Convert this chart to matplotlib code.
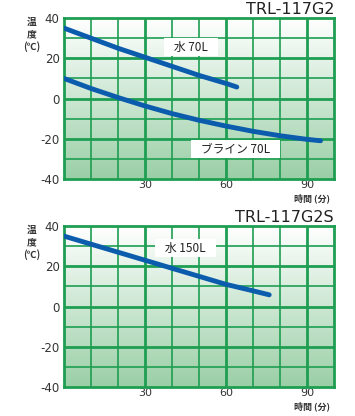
import numpy as np
import matplotlib
matplotlib.use("Agg")
import matplotlib.pyplot as plt
from matplotlib.colors import LinearSegmentedColormap

plt.rcParams['font.family'] = ['Noto Sans CJK JP', 'DejaVu Sans']

# Data
titles = ["TRL-117G2", "TRL-117G2S"]
x_ticks = [30, 60, 90]
y_ticks = [-40, -20, 0, 20, 40]

water70_t = [0, 10, 20, 30, 40, 50, 60, 64]
water70_v = [35, 30, 25, 20.5, 16, 11.5, 7.5, 5.7]

brine70_t = [0, 10, 20, 30, 40, 50, 60, 70, 80, 90, 95]
brine70_v = [10, 5, 0.5, -3.7, -7.5, -10.8, -13.7, -16.3, -18.5, -20.3, -21]

water150_t = [0, 10, 20, 30, 40, 50, 60, 70, 76]
water150_v = [35, 31, 27, 23, 19, 15, 11, 7.8, 5.8]

labels_top = [("水 70L", 47, 25.5), ("ブライン 70L", 63.5, -25)]
labels_bot = [("水 150L", 45, 29)]

line_color = "#0b5cad"
grid_color = "#1e9e52"
cmap = LinearSegmentedColormap.from_list("g", ["#ffffff", "#9acfa6"])

fig = plt.figure(figsize=(3.55, 4.16), dpi=100)

def make_ax(rect, title, series, labels):
    ax = fig.add_axes(rect)
    grad = np.linspace(0, 1, 256).reshape(-1, 1)
    ax.imshow(grad, cmap=cmap, extent=[0, 100, -40, 40], origin='upper',
              aspect='auto', zorder=0)
    ax.set_xlim(0, 100)
    ax.set_ylim(-40, 40)
    for x in range(10, 100, 10):
        lw = 2.0 if x % 30 == 0 else 1.2
        ax.axvline(x, color=grid_color, lw=lw, zorder=1)
    for y in range(-30, 40, 10):
        lw = 2.0 if y % 20 == 0 else 1.2
        ax.axhline(y, color=grid_color, lw=lw, zorder=1)
    for s in ax.spines.values():
        s.set_color(grid_color)
        s.set_linewidth(2.0)
    for t, v in series:
        ax.plot(t, v, color=line_color, lw=3.5, solid_capstyle='round', zorder=3)
    for txt, x, y in labels:
        ax.text(x, y, "   " + txt + "   ", ha='center', va='center', fontsize=8.5,
                color='#222222',
                bbox=dict(boxstyle='square,pad=0.2', fc='white', ec='none'), zorder=4)
    ax.set_xticks(x_ticks)
    ax.set_yticks(y_ticks)
    ax.set_xticklabels([str(v) for v in x_ticks], family=['DejaVu Sans'])
    ax.set_yticklabels([str(v) for v in y_ticks], family=['DejaVu Sans'])
    ax.tick_params(length=0, labelsize=8.5, colors='#333333', pad=3)
    ax.tick_params(axis='x', labelsize=8, pad=0.8)
    ax.text(1.0, 1.005, title, transform=ax.transAxes, ha='right', va='bottom',
            fontsize=11.5, color='#222222', family=['DejaVu Sans'])
    for i, s in enumerate(["温", "度", "(℃)"]):
        ax.text(-0.12, 1.005 - i * 0.075, s, transform=ax.transAxes, ha='center',
                va='top', fontsize=7, color='#333333', fontweight='bold')
    ax.text(0.985, -0.092, "時間 (分)", transform=ax.transAxes, ha='right', va='top',
            fontsize=6.5, color='#333333', fontweight='bold')
    return ax

make_ax([0.180, 0.5697, 0.761, 0.387], titles[0],
        [(water70_t, water70_v), (brine70_t, brine70_v)], labels_top)
make_ax([0.180, 0.0697, 0.761, 0.387], titles[1],
        [(water150_t, water150_v)], labels_bot)

fig.savefig("out.png", dpi=100)
